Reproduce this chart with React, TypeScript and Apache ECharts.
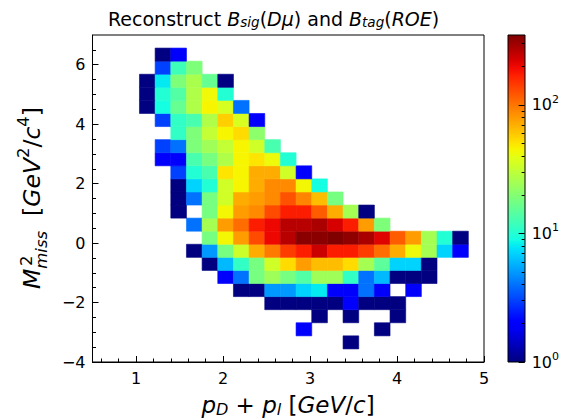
import { useEffect, useRef } from 'react';
import * as echarts from 'echarts';

// ---- histogram definition ----
const X_RANGE = [0.5, 5];
const Y_RANGE = [-4, 7];
const N_X_BINS = 25;
const N_Y_BINS = 25;

// tick labels
const xMajorTicks = [1, 2, 3, 4, 5];
const yMajorTicks = [-4, -2, 0, 2, 4, 6];
const cbarExponents = [0, 1, 2];
const cbarMinorValues = [2, 3, 4, 5, 6, 7, 8, 9, 20, 30, 40, 50, 60, 70, 80, 90, 200, 300];

// counts per y-bin (row0 = bottom), 25 x-bins each
const row0 = [0,0,0,0,0,0,0,0,0,0,0,0,0,0,0,0,0,0,0,0,0,0,0,0,0];
const row1 = [0,0,0,0,0,0,0,0,0,0,0,0,0,0,0,0,1,0,0,0,0,0,0,0,0];
const row2 = [0,0,0,0,0,0,0,0,0,0,0,0,0,2,0,0,0,0,1,0,0,0,0,0,0];
const row3 = [0,0,0,0,0,0,0,0,0,0,0,0,0,0,1,0,1,0,0,1,0,0,0,0,0];
const row4 = [0,0,0,0,0,0,0,0,0,0,0,1,1,1,1,1,2,1,1,1,0,0,0,0,0];
const row5 = [0,0,0,0,0,0,0,0,0,1,1,5,5,7,8,2,2,4,2,0,2,0,0,0,0];
const row6 = [0,0,0,0,0,0,0,0,2,4,18,24,18,14,24,24,11,4,6,1,1,1,0,0,0];
const row7 = [0,0,0,0,0,0,0,1,6,11,18,34,53,78,64,64,53,25,15,7,7,1,0,0,0];
const row8 = [0,0,0,0,0,0,1,5,18,33,71,97,143,174,238,174,174,143,105,71,42,25,7,2,0];
const row9 = [0,0,0,0,0,0,0,18,44,78,130,200,261,332,332,350,323,282,217,117,78,25,10,1,0];
const row10 = [0,0,0,0,0,0,4,25,78,105,174,200,261,261,282,226,174,78,19,0,0,0,0,0,0];
const row11 = [0,0,0,0,0,1,0,18,44,78,88,130,174,174,117,71,25,1,0,0,0,0,0,0,0];
const row12 = [0,0,0,0,0,1,4,18,34,71,78,88,124,91,64,18,0,0,0,0,0,0,0,0,0];
const row13 = [0,0,0,0,0,1,7,10,34,45,71,88,88,44,9,0,0,0,0,0,0,0,0,0,0];
const row14 = [0,0,0,0,0,3,10,13,50,45,71,71,34,2,0,0,0,0,0,0,0,0,0,0,0];
const row15 = [0,0,0,0,2,2,13,18,27,45,50,42,10,0,0,0,0,0,0,0,0,0,0,0,0];
const row16 = [0,0,0,0,3,4,19,24,31,45,34,13,0,0,0,0,0,0,0,0,0,0,0,0,0];
const row17 = [0,0,0,0,0,11,19,31,45,53,21,0,0,0,0,0,0,0,0,0,0,0,0,0,0];
const row18 = [0,0,0,0,3,11,13,27,57,36,2,0,0,0,0,0,0,0,0,0,0,0,0,0,0];
const row19 = [0,0,0,1,9,16,27,45,36,4,0,0,0,0,0,0,0,0,0,0,0,0,0,0,0];
const row20 = [0,0,0,1,10,14,27,43,10,0,0,0,0,0,0,0,0,0,0,0,0,0,0,0,0];
const row21 = [0,0,0,1,8,19,26,16,1,0,0,0,0,0,0,0,0,0,0,0,0,0,0,0,0];
const row22 = [0,0,0,0,3,12,19,0,0,0,0,0,0,0,0,0,0,0,0,0,0,0,0,0,0];
const row23 = [0,0,0,0,1,2,0,0,0,0,0,0,0,0,0,0,0,0,0,0,0,0,0,0,0];
const row24 = [0,0,0,0,0,0,0,0,0,0,0,0,0,0,0,0,0,0,0,0,0,0,0,0,0];

const rows = [row0,row1,row2,row3,row4,row5,row6,row7,row8,row9,row10,row11,row12,
  row13,row14,row15,row16,row17,row18,row19,row20,row21,row22,row23,row24];

const FONT = "'DejaVu Sans', sans-serif";

function jet(t: number): string {
  const r = t < 0.35 ? 0 : t < 0.66 ? (t - 0.35) / 0.31 : t < 0.89 ? 1 : 1 - 0.5 * (t - 0.89) / 0.11;
  const g = t < 0.125 ? 0 : t < 0.375 ? (t - 0.125) / 0.25 : t < 0.64 ? 1 : t < 0.91 ? 1 - (t - 0.64) / 0.27 : 0;
  const b = t < 0.11 ? 0.5 + 0.5 * t / 0.11 : t < 0.34 ? 1 : t < 0.65 ? 1 - (t - 0.34) / 0.31 : 0;
  const h = (v: number) => Math.round(Math.max(0, Math.min(1, v)) * 255).toString(16).padStart(2, '0');
  return '#' + h(r) + h(g) + h(b);
}

export default function App() {
  const ref = useRef<HTMLDivElement>(null);
  useEffect(() => {
    document.body.style.margin = '0';
    const chart = echarts.init(ref.current!, undefined, { renderer: 'svg' });

    const binW = (X_RANGE[1] - X_RANGE[0]) / N_X_BINS;
    const binH = (Y_RANGE[1] - Y_RANGE[0]) / N_Y_BINS;
    const countMax = Math.max(...rows.flat());
    const logMax = Math.log10(countMax);

    const cells: number[][] = [];
    rows.forEach((row, j) => row.forEach((c, i) => {
      if (c > 0) cells.push([X_RANGE[0] + i * binW, Y_RANGE[0] + j * binH, Math.log10(c), c]);
    }));

    const jetColors = Array.from({ length: 41 }, (_, k) => jet(k / 40));
    const gradStops = jetColors.map((c, k) => ({ offset: k / 40, color: c }));

    const xMinor = Array.from({ length: 22 }, (_, k) => +(0.6 + 0.2 * k).toFixed(1)).filter(v => !Number.isInteger(v));
    const yMinor = Array.from({ length: 21 }, (_, k) => -3.5 + 0.5 * k).filter(v => v % 2 !== 0);
    const cbMinor = cbarMinorValues.map(v => Math.log10(v)).filter(v => v <= logMax);

    const tickStyle = { color: '#000', width: 1 };
    const labelBase = { fontFamily: FONT, fontSize: 16, color: '#000' };
    const hiddenLine = { show: false, onZero: false };

    const titleRich = {
      n: { fontFamily: FONT, fontSize: 19, lineHeight: 21, color: '#111' },
      i: { fontFamily: FONT, fontSize: 19, lineHeight: 21, color: '#111', fontStyle: 'italic' },
      s: { fontFamily: FONT, fontSize: 13.5, lineHeight: 13, color: '#111', fontStyle: 'italic', verticalAlign: 'bottom' },
    };
    const xRich = {
      n: { fontFamily: FONT, fontSize: 23, lineHeight: 25, color: '#000' },
      i: { fontFamily: FONT, fontSize: 23, lineHeight: 25, color: '#000', fontStyle: 'italic' },
      s: { fontFamily: FONT, fontSize: 16, lineHeight: 16, color: '#000', fontStyle: 'italic', verticalAlign: 'bottom' },
    };
    const yRich = {
      n: { fontFamily: FONT, fontSize: 23.5, lineHeight: 35, color: '#000' },
      i: { fontFamily: FONT, fontSize: 23.5, lineHeight: 35, color: '#000', fontStyle: 'italic' },
      s: { fontFamily: FONT, fontSize: 16.5, lineHeight: 16, color: '#000', fontStyle: 'italic', verticalAlign: 'bottom' },
      p: { fontFamily: FONT, fontSize: 16.5, lineHeight: 22, color: '#000', verticalAlign: 'top' },
    };

    const option: any = {
      animation: false,
      backgroundColor: '#fff',
      grid: [
        { left: 92.5, top: 35, width: 391.5, height: 327, show: true, borderColor: '#000', borderWidth: 1, backgroundColor: 'transparent' },
        { left: 508, top: 35, width: 17, height: 327, show: false },
      ],
      xAxis: [
        {
          type: 'value', gridIndex: 0, min: X_RANGE[0], max: X_RANGE[1], position: 'bottom',
          axisLine: { show: true, onZero: false, lineStyle: { color: '#000', width: 1 } }, splitLine: { show: false },
          axisTick: { show: true, inside: true, length: 6, customValues: xMajorTicks, lineStyle: tickStyle },
          axisLabel: { ...labelBase, margin: 8, customValues: xMajorTicks },
        },
        {
          type: 'value', gridIndex: 0, min: X_RANGE[0], max: X_RANGE[1], position: 'bottom', offset: 0,
          axisLine: hiddenLine, splitLine: { show: false },
          axisTick: { show: true, inside: true, length: 3.5, customValues: xMinor, lineStyle: tickStyle },
          axisLabel: { show: false },
        },
        { type: 'value', gridIndex: 1, min: 0, max: 1, show: false, axisLine: hiddenLine },
      ],
      yAxis: [
        {
          type: 'value', gridIndex: 0, min: Y_RANGE[0], max: Y_RANGE[1], position: 'left',
          axisLine: { show: true, onZero: false, lineStyle: { color: '#000', width: 1 } }, splitLine: { show: false },
          axisTick: { show: true, inside: true, length: 6, customValues: yMajorTicks, lineStyle: tickStyle },
          axisLabel: { ...labelBase, margin: 7, customValues: yMajorTicks, formatter: (v: number) => (v < 0 ? '\u2212' + (-v) : String(v)) },
        },
        {
          type: 'value', gridIndex: 0, min: Y_RANGE[0], max: Y_RANGE[1], position: 'left', offset: 0,
          axisLine: hiddenLine, splitLine: { show: false },
          axisTick: { show: true, inside: true, length: 3.5, customValues: yMinor, lineStyle: tickStyle },
          axisLabel: { show: false },
        },
        {
          type: 'value', gridIndex: 1, min: 0, max: logMax, position: 'right',
          axisLine: hiddenLine, splitLine: { show: false },
          axisTick: { show: true, inside: true, length: 6, customValues: cbarExponents, lineStyle: tickStyle },
          axisLabel: {
            ...labelBase, margin: 7, lineHeight: 22, customValues: cbarExponents,
            formatter: (v: number) => '10{p|' + Math.round(v) + '}',
            rich: { p: { fontFamily: FONT, fontSize: 11, lineHeight: 11, color: '#000', verticalAlign: 'top' } },
          },
        },
        {
          type: 'value', gridIndex: 1, min: 0, max: logMax, position: 'right', offset: 0,
          axisLine: hiddenLine, splitLine: { show: false },
          axisTick: { show: true, inside: true, length: 3, customValues: cbMinor, lineStyle: tickStyle },
          axisLabel: { show: false },
        },
      ],
      visualMap: {
        type: 'continuous', show: false, seriesIndex: 0, dimension: 2,
        min: 0, max: logMax, inRange: { color: jetColors },
      },
      graphic: [
        {
          type: 'rect', z: -10, shape: { x: 508, y: 35, width: 17, height: 327 },
          style: { fill: { type: 'linear', x: 0, y: 1, x2: 0, y2: 0, colorStops: gradStops }, stroke: '#000', lineWidth: 1 },
        },
        {
          type: 'text', x: 108, y: 18.6,
          style: {
            text: '{n|Reconstruct }{i|B}{s|sig}{n|(}{i|Dμ}{n|) and }{i|B}{s|tag}{n|(}{i|ROE}{n|)}',
            rich: titleRich, align: 'left', verticalAlign: 'middle',
          },
        },
        {
          type: 'text', x: 288, y: 405,
          style: {
            text: '{i|p}{s|D}{n| + }{i|p}{s|l}{n| [}{i|GeV}{n|/}{i|c}{n|]}',
            rich: xRich, align: 'center', verticalAlign: 'middle',
          },
        },
        {
          type: 'text', x: 32, y: 289, rotation: Math.PI / 2,
          style: {
            text: '{i|M}{s|miss}{n|  [}{i|GeV}{p|2}{n|/}{i|c}{p|4}{n|]}',
            rich: yRich, align: 'left', verticalAlign: 'middle',
          },
        },
        {
          type: 'text', x: 26, y: 266, rotation: Math.PI / 2,
          style: { text: '2', fontFamily: FONT, fontSize: 16.5, fill: '#000', align: 'left', verticalAlign: 'middle' },
        },
      ],
      series: [
        {
          type: 'custom', coordinateSystem: 'cartesian2d', xAxisIndex: 0, yAxisIndex: 0,
          data: cells,
          renderItem: (params: any, api: any) => {
            const x0 = api.value(0);
            const y0 = api.value(1);
            const p0 = api.coord([x0, y0]);
            const p1 = api.coord([x0 + binW, y0 + binH]);
            const color = api.visual('color');
            return {
              type: 'rect',
              shape: { x: p0[0], y: p1[1], width: p1[0] - p0[0], height: p0[1] - p1[1] },
              style: { fill: color, stroke: color, lineWidth: 0.6 },
            };
          },
        },
      ],
    };

    chart.setOption(option);
    return () => chart.dispose();
  }, []);
  return <div ref={ref} style={{ width: 562, height: 420 }} />;
}
